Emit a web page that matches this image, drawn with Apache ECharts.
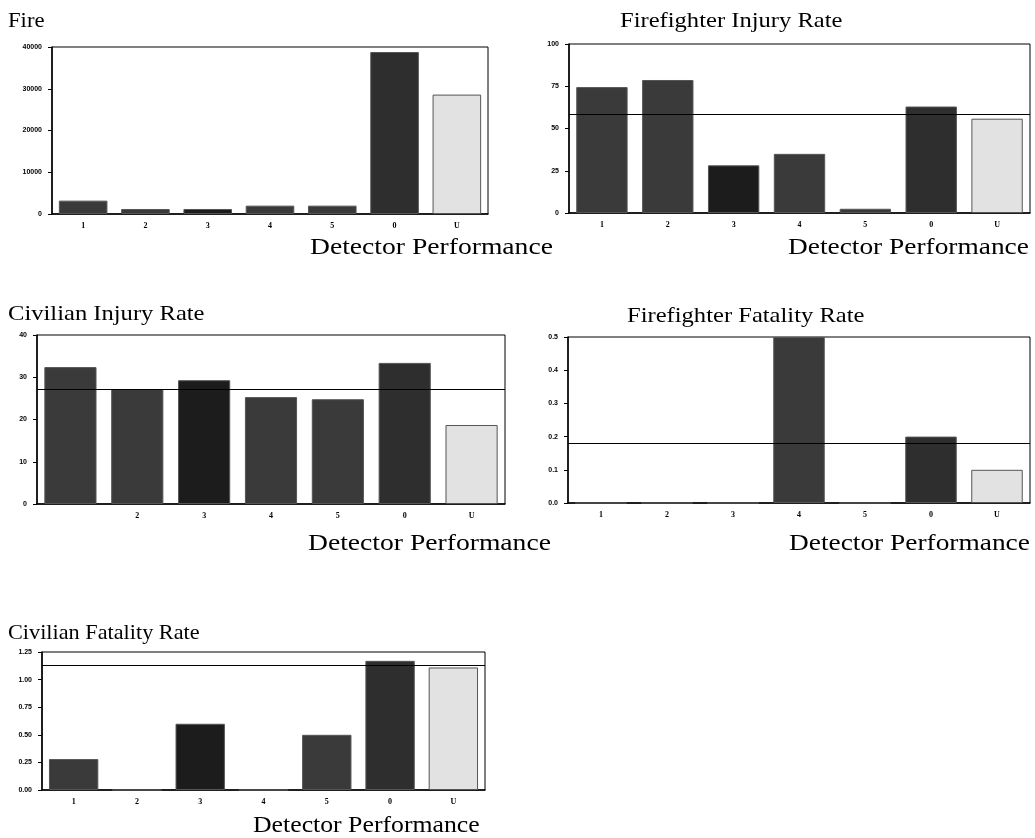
<!DOCTYPE html>
<html><head><meta charset="utf-8">
<script src="https://cdn.jsdelivr.net/npm/echarts@6/dist/echarts.min.js"></script>
<style>html,body{margin:0;padding:0;background:#fff}#c{width:1035px;height:838px}</style>
</head><body><div id="c"></div>
<script>
const categories = ["1","2","3","4","5","0","U"];
const fireValues = [3200, 1200, 1200, 2000, 2000, 38800, 28600];
const ffInjuryValues = [74.5, 78.7, 28.2, 35, 2.5, 63, 55.8];
const civInjuryValues = [32.4, 27.2, 29.3, 25.3, 24.8, 33.4, 18.7];
const ffFatalityValues = [0, 0, 0, 0.5, 0, 0.2, 0.1];
const civFatalityValues = [0.28, 0, 0.6, 0, 0.5, 1.17, 1.11];
const averages = [null, 58.2, 27.2, 0.178, 1.128];
const yTicks = [
  {min:0, max:40000, interval:10000, dec:0},
  {min:0, max:100, interval:25, dec:0},
  {min:0, max:40, interval:10, dec:0},
  {min:0, max:0.5, interval:0.1, dec:1},
  {min:0, max:1.25, interval:0.25, dec:2}
];
const titles = ["Fire","Firefighter Injury Rate","Civilian Injury Rate","Firefighter Fatality Rate","Civilian Fatality Rate"];
const xTitle = "Detector Performance";
const seriesData = [fireValues, ffInjuryValues, civInjuryValues, ffFatalityValues, civFatalityValues];

const grids = [
  {left:52, top:47, width:436, height:167},
  {left:569, top:44, width:461, height:169},
  {left:37, top:335, width:468, height:169},
  {left:568, top:337, width:462, height:166},
  {left:42, top:652, width:443, height:138}
];
const titlePos = [[8,11,1.08],[620,11,1.17],[8,304,1.17],[627,306,1.17],[8,623,1.06]];
const xTitlePos = [[310,236,1.2],[788,236,1.19],[308,532,1.2],[789,532,1.19],[253,814,1.12]];
const barColors = ["#3a3a3a","#3a3a3a","#1c1c1c","#3a3a3a","#3a3a3a","#2e2e2e","#e2e2e2"];

const chart = echarts.init(document.getElementById('c'), null, {renderer:'canvas'});
const option = {
  animation:false,
  backgroundColor:'#fff',
  grid: grids.map(g => Object.assign({show:true, borderColor:'#000', borderWidth:1, containLabel:false}, g)),
  xAxis: grids.map((g,i) => ({
    type:'category', gridIndex:i, data:categories,
    axisLine:{show:true, lineStyle:{color:'#000', width:1.5}},
    axisTick:{show:false},
    axisLabel:{color:'#000', fontSize:8, fontWeight:'bold', fontFamily:'Liberation Serif', margin:8,
      interval: (idx) => !(i===2 && idx===0)}
  })),
  yAxis: grids.map((g,i) => ({
    type:'value', gridIndex:i, min:yTicks[i].min, max:yTicks[i].max, interval:yTicks[i].interval,
    splitLine:{show:false},
    axisLine:{show:true, lineStyle:{color:'#000', width:1.5}},
    axisTick:{show:true, length:4, lineStyle:{color:'#000'}},
    axisLabel:{color:'#000', fontSize:7, fontWeight:'bold', fontFamily:'Liberation Sans', margin:10,
      formatter: v => v.toFixed(yTicks[i].dec)}
  })),
  series: seriesData.map((d,i) => ({
    type:'bar', xAxisIndex:i, yAxisIndex:i, data:d, barCategoryGap:'22%',
    itemStyle:{
      color: p => barColors[p.dataIndex],
      borderColor: '#555', borderWidth: 1
    },
    markLine: averages[i] === null ? undefined : {
      silent:true, symbol:'none', label:{show:false},
      lineStyle:{color:'#000', width:1, type:'solid'},
      data:[{yAxis: averages[i]}]
    }
  })),
  graphic: [].concat(
    titles.map((t,i) => ({type:'text', x:titlePos[i][0], y:titlePos[i][1], scaleX:titlePos[i][2],
      style:{text:t, font:'21px "Liberation Serif"', fill:'#000', textVerticalAlign:'top'}})),
    xTitlePos.map(p => ({type:'text', x:p[0], y:p[1], scaleX:p[2],
      style:{text:xTitle, font:'23px "Liberation Serif"', fill:'#000', textVerticalAlign:'top'}}))
  )
};
chart.setOption(option);
</script></body></html>
